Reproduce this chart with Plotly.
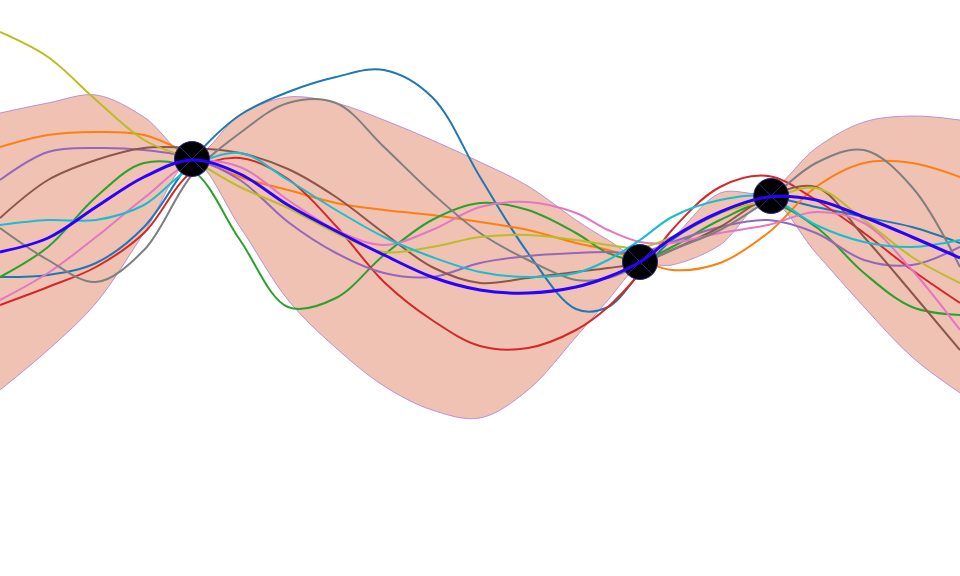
import plotly.graph_objects as go

x = [0, 1.5, 3, 4.5, 6, 7.5, 9, 10.5, 12, 13.5, 15, 16.5, 18, 19, 20, 21, 22.5, 24, 25.5, 27, 28.5, 30]

band_upper = [1.87, 1.97, 2.05, 1.83, 1.43, 1.85, 2.03, 1.97, 1.80, 1.60, 1.38, 1.14, 0.80, 0.60, 0.43, 0.62, 1.07, 1.08, 1.52, 1.78, 1.84, 1.80]
band_lower = [-0.90, -0.50, -0.03, 0.67, 1.39, 0.73, 0.00, -0.48, -0.86, -1.10, -1.18, -0.90, -0.37, 0.00, 0.34, 0.35, 0.55, 1.00, 0.47, -0.07, -0.57, -0.93]
mean = [0.48, 0.62, 0.93, 1.23, 1.40, 1.26, 0.95, 0.69, 0.45, 0.23, 0.10, 0.07, 0.13, 0.23, 0.38, 0.62, 0.88, 1.03, 1.00, 0.83, 0.63, 0.42]

s_blue = [0.23, 0.25, 0.37, 0.73, 1.40, 1.85, 2.08, 2.23, 2.30, 2.03, 1.23, 0.47, -0.09, -0.07, 0.27, 0.60, 0.87, 1.02, 0.93, 0.83, 0.73, 0.57]
s_orange = [1.53, 1.65, 1.68, 1.65, 1.45, 1.23, 1.10, 0.97, 0.90, 0.85, 0.78, 0.70, 0.57, 0.50, 0.40, 0.30, 0.37, 0.67, 1.13, 1.37, 1.37, 1.23]
s_green = [0.23, 0.53, 1.03, 1.37, 1.30, 0.60, -0.07, 0.02, 0.45, 0.80, 0.97, 0.90, 0.67, 0.47, 0.40, 0.53, 0.80, 0.97, 0.73, 0.27, -0.07, -0.15]
s_red = [-0.05, 0.13, 0.33, 0.67, 1.28, 1.42, 1.21, 0.74, 0.18, -0.20, -0.46, -0.48, -0.30, -0.07, 0.27, 0.70, 1.13, 1.24, 1.00, 0.67, 0.30, -0.03]
s_purple = [1.20, 1.48, 1.52, 1.50, 1.42, 1.20, 0.78, 0.47, 0.27, 0.23, 0.37, 0.44, 0.47, 0.48, 0.47, 0.58, 0.73, 0.80, 0.67, 0.40, 0.35, 0.53]
s_brown = [0.82, 1.20, 1.40, 1.52, 1.52, 1.47, 1.31, 1.03, 0.67, 0.33, 0.17, 0.22, 0.28, 0.32, 0.37, 0.50, 0.73, 1.03, 1.13, 0.63, 0.07, -0.50]
s_pink = [0.00, 0.27, 0.63, 1.02, 1.37, 1.33, 1.00, 0.70, 0.55, 0.70, 0.93, 0.98, 0.87, 0.70, 0.58, 0.57, 0.67, 0.75, 0.88, 0.77, 0.30, -0.30]
s_gray = [0.72, 0.40, 0.18, 0.50, 1.25, 1.67, 1.97, 1.97, 1.53, 1.07, 0.67, 0.40, 0.20, 0.22, 0.35, 0.50, 0.70, 1.00, 1.37, 1.50, 1.13, 0.33]
s_olive = [2.68, 2.43, 2.00, 1.60, 1.40, 1.13, 0.92, 0.67, 0.48, 0.53, 0.63, 0.65, 0.60, 0.55, 0.52, 0.63, 0.87, 1.00, 1.12, 0.80, 0.43, 0.17]
s_cyan = [0.75, 0.80, 0.80, 0.95, 1.33, 1.47, 1.20, 0.90, 0.63, 0.43, 0.28, 0.23, 0.27, 0.40, 0.60, 0.83, 1.00, 1.03, 0.75, 0.58, 0.53, 0.60]

obs_x = [6, 20, 24.1]
obs_y = [1.41, 0.38, 1.04]

samples = [
    (s_blue, "#1f77b4"), (s_orange, "#ff7f0e"), (s_green, "#2ca02c"),
    (s_red, "#d62728"), (s_purple, "#9467bd"), (s_brown, "#8c564b"),
    (s_pink, "#e377c2"), (s_gray, "#7f7f7f"), (s_olive, "#bcbd22"),
    (s_cyan, "#17becf"),
]

fig = go.Figure()
edge = dict(color="rgba(160,120,210,0.9)", width=0.8, shape="spline")
fig.add_trace(go.Scatter(x=x, y=band_upper, mode="lines", line=edge, hoverinfo="skip"))
fig.add_trace(go.Scatter(x=x, y=band_lower, mode="lines", line=edge,
                         fill="tonexty", fillcolor="rgb(239,194,180)", hoverinfo="skip"))
for ys, c in samples:
    fig.add_trace(go.Scatter(x=x, y=ys, mode="lines",
                             line=dict(color=c, width=2, shape="spline")))
fig.add_trace(go.Scatter(x=obs_x, y=obs_y, mode="markers",
                         marker=dict(size=35, color="black", symbol="circle-x",
                                     line=dict(color="rgb(40,40,130)", width=1))))
fig.add_trace(go.Scatter(x=x, y=mean, mode="lines",
                         line=dict(color="rgb(42,0,255)", width=3, shape="spline")))

fig.update_layout(
    width=960, height=576,
    margin=dict(l=0, r=0, t=0, b=0),
    showlegend=False,
    plot_bgcolor="white", paper_bgcolor="white",
    xaxis=dict(visible=False, range=[0, 30]),
    yaxis=dict(visible=False, range=[-2.76, 3.0]),
)
fig.write_html("out.html", config={"displayModeBar": False},
               post_script="document.body.style.margin='0px';")
